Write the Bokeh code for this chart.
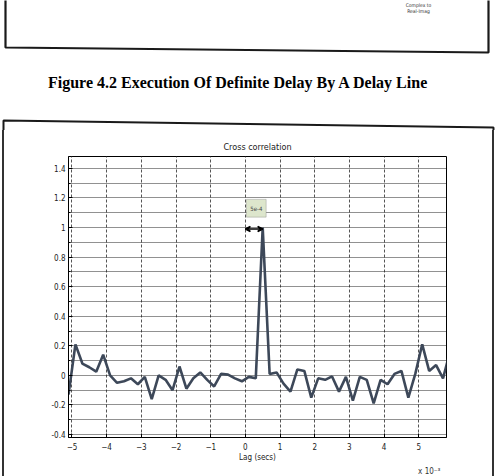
import numpy as np
from bokeh.plotting import figure
from bokeh.layouts import column, row
from bokeh.models import (Range1d, FixedTicker, Label, Title,
                          BoxAnnotation, Arrow, VeeHead)
from bokeh.embed import file_html
from bokeh.resources import INLINE

# ---------------- data (lag in units of 1e-3 s) ----------------
lags_ms = [-5.1, -4.9, -4.7, -4.5, -4.3, -4.1, -3.9, -3.7, -3.5, -3.3, -3.1, -2.9,
           -2.7, -2.5, -2.3, -2.1, -1.9, -1.7, -1.5, -1.3, -1.1, -0.9, -0.7, -0.5,
           -0.3, -0.1, 0.1, 0.3, 0.5, 0.7, 0.9, 1.1, 1.3, 1.5, 1.7, 1.9, 2.1, 2.3,
           2.5, 2.7, 2.9, 3.1, 3.3, 3.5, 3.7, 3.9, 4.1, 4.3, 4.5, 4.7, 4.9, 5.1,
           5.3, 5.5, 5.7, 5.9]
xcorr = [-0.13, 0.21, 0.08, 0.055, 0.025, 0.14, 0.0, -0.05, -0.04, -0.02, -0.06, -0.01,
         -0.16, 0.0, -0.03, -0.10, 0.06, -0.09, -0.02, 0.02, -0.03, -0.075, 0.01, 0.005,
         -0.02, -0.04, -0.01, -0.02, 1.0, 0.01, 0.02, -0.056, -0.11, 0.04, 0.03, -0.15,
         -0.02, -0.03, -0.007, -0.11, -0.01, -0.17, -0.01, -0.03, -0.19, -0.03, -0.06, 0.01,
         0.03, -0.15, 0.01, 0.21, 0.03, 0.07, -0.02, 0.16]
x_ticks = [-5, -4, -3, -2, -1, 0, 1, 2, 3, 4, 5]
y_ticks = [-0.4, -0.2, 0, 0.2, 0.4, 0.6, 0.8, 1, 1.2, 1.4]
y_tick_labels = ["-0.4", "-0.2", "0", "0.2", "0.4", "0.6", "0.8", "1", "1.2", "1.4"]
y_minor = [-0.3, -0.1, 0.1, 0.3, 0.5, 0.7, 0.9, 1.1, 1.3]

title_text = "Cross correlation"
xlabel_text = "Lag (secs)"
xscale_text = "x 10\u207b\u00b3"
caption_text = "Figure 4.2 Execution Of Definite Delay By A Delay Line"
prev_fig_text = ["Complex to", "Real-Imag"]

FONT = "'Liberation Sans Narrow', 'DejaVu Sans Condensed', 'Liberation Sans', sans-serif"
SERIF = "'Liberation Serif', 'Times New Roman', serif"
INK = "#1a1a1a"

W, H = 496, 476
TOP_H = 130          # page strip with caption and previous figure's frame
CH_H = H - TOP_H

# ---------------- top of page: previous figure frame + caption ----------------
top = figure(width=W, height=TOP_H, output_backend="svg", toolbar_location=None,
             x_range=Range1d(0, W), y_range=Range1d(TOP_H, 0),
             x_axis_location=None, y_axis_location=None, title=None,
             min_border=0, outline_line_color=None,
             background_fill_color="white", border_fill_color="white")
top.xgrid.visible = False
top.ygrid.visible = False
top.line([5, 5, 488, 488], [-5, 47, 52, -5], line_color=INK, line_width=2.2)
top.line([3, 3, 493, 493], [TOP_H + 5, 120, 127, TOP_H + 5], line_color=INK, line_width=2)
top.add_layout(Label(x=238, y=82, text=caption_text, text_font=SERIF,
                     text_font_size="16px", text_font_style="bold", text_color="black",
                     text_align="center", text_baseline="middle"))
for i, t in enumerate(prev_fig_text):
    top.add_layout(Label(x=418, y=4 + 6 * i, text=t, text_font=FONT,
                         text_font_size="5px", text_color="#333333",
                         text_align="center", text_baseline="middle"))

# ---------------- the chart ----------------
side_lines = ("linear-gradient(to right, transparent 2px, #333 2px, #333 4px, transparent 4px, "
              "transparent 492px, #333 492px, #333 494px, transparent 494px)")
p = figure(width=W, height=CH_H, output_backend="svg", toolbar_location=None,
           x_range=Range1d(-5.1, 5.8), y_range=Range1d(-0.42, 1.48),
           min_border_left=68, min_border_right=W - 446,
           min_border_top=156 - TOP_H, min_border_bottom=H - 437,
           background_fill_color="white", border_fill_color="white", border_fill_alpha=0,
           outline_line_color="black", outline_line_width=1,
           styles={"background": side_lines})

p.title.text = title_text
p.title.align = "center"
p.title.text_font = FONT
p.title.text_font_size = "9px"
p.title.text_font_style = "normal"
p.title.text_color = "#222222"
p.title.standoff = 10

xt = FixedTicker(ticks=x_ticks)
yt = FixedTicker(ticks=y_ticks, minor_ticks=y_minor)
overrides = {t: s for t, s in zip(y_ticks, y_tick_labels)}

for ax in p.xaxis:
    ax.ticker = xt
    ax.axis_label = xlabel_text
    ax.major_label_standoff = 5
    ax.axis_label_standoff = 0
for ax in p.yaxis:
    ax.ticker = yt
    ax.major_label_overrides = overrides
    ax.major_label_standoff = 3

for ax in list(p.xaxis) + list(p.yaxis):
    ax.major_label_text_font = FONT
    ax.major_label_text_font_size = "8px"
    ax.major_label_text_color = "#222222"
    ax.axis_label_text_font = FONT
    ax.axis_label_text_font_size = "8px"
    ax.axis_label_text_font_style = "normal"
    ax.axis_label_text_color = "#222222"
    ax.major_tick_in = 4
    ax.major_tick_out = 0
    ax.minor_tick_in = 2
    ax.minor_tick_out = 0
    ax.axis_line_color = "black"
p.xaxis.minor_tick_line_color = None

p.add_layout(Title(text=xscale_text, align="right", offset=6, standoff=0,
                   text_font=FONT, text_font_size="8px", text_font_style="normal",
                   text_color="#333333"), "below")

p.xgrid.ticker = xt
p.xgrid.grid_line_color = "#555555"
p.xgrid.grid_line_dash = "3 2"
p.xgrid.grid_line_width = 1
p.ygrid.ticker = yt
p.ygrid.grid_line_color = "#222222"
p.ygrid.grid_line_dash = "1 1"
p.ygrid.grid_line_width = 1.2
p.ygrid.minor_grid_line_color = "#222222"
p.ygrid.minor_grid_line_dash = "1 1"
p.ygrid.minor_grid_line_width = 1.2

p.line(lags_ms, xcorr, line_color="#3d4859", line_width=2.6)

# ---------------- delay annotation ----------------
ipk = int(np.argmax(xcorr))
peak_lag = lags_ms[ipk]
peak_val = xcorr[ipk]
delay_text = f"{peak_lag * 1e-3:.0e}".replace("e-0", "e-")
p.add_layout(Arrow(start=VeeHead(size=5, line_color="black", line_width=1.5),
                   end=VeeHead(size=5, line_color="black", line_width=1.5),
                   x_start=0, y_start=peak_val * 0.99, x_end=peak_lag, y_end=peak_val * 0.99,
                   line_color="black", line_width=1.5))
p.add_layout(BoxAnnotation(left=0.03, right=0.6, bottom=1.07, top=1.19,
                           fill_color="#dde6cc", fill_alpha=1.0,
                           line_color="#666666", line_width=1))
p.add_layout(Label(x=0.315, y=1.13, text=delay_text, text_font=FONT,
                   text_font_size="6px", text_color="#444444",
                   text_align="center", text_baseline="middle"))

# the chart is wrapped in its own row so that the column does not align its frame
# with the (axis-less) page strip above it
page = column(top, row(p, spacing=0), spacing=0)
open("out.html", "w").write(file_html(page, INLINE))
